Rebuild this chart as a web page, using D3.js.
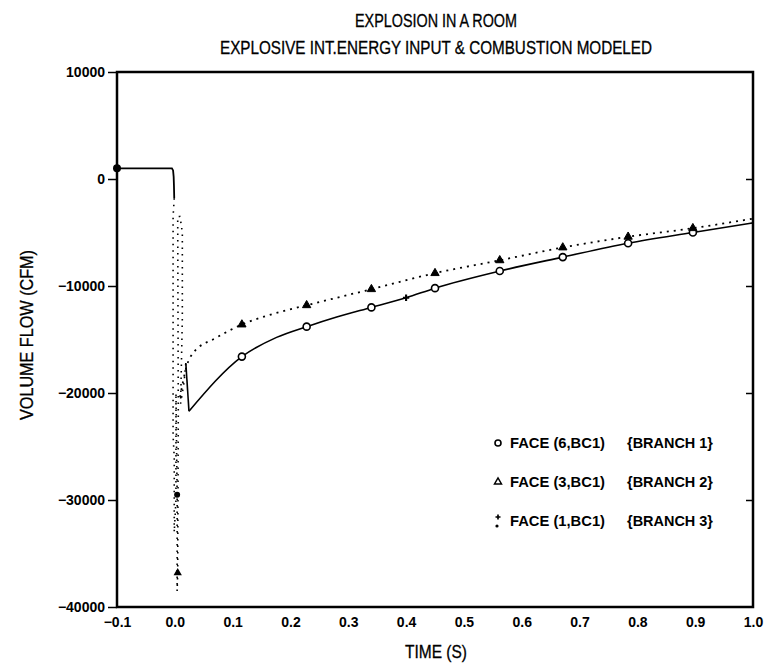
<!DOCTYPE html>
<html>
<head>
<meta charset="utf-8">
<script src="https://cdnjs.cloudflare.com/ajax/libs/d3/7.8.5/d3.min.js"></script>
<style>
  body { margin: 0; background: #fff; }
  svg { display: block; }
</style>
</head>
<body>
<svg id="chart" width="767" height="667"></svg>
<script>
// ---- data ----
const titleLines = ["EXPLOSION IN A ROOM", "EXPLOSIVE INT.ENERGY INPUT & COMBUSTION MODELED"];
const yTicks = [10000, 0, -10000, -20000, -30000, -40000];
const xTicks = [-0.1, 0.0, 0.1, 0.2, 0.3, 0.4, 0.5, 0.6, 0.7, 0.8, 0.9, 1.0];

// flat part before the explosion
const preTime = [-0.1, -0.005, -0.003, -0.002, -0.0015, -0.001];
const preFlow = [1000, 1000, 800, 200, -600, -1800];

// oscillating spike right after t=0 (drawn dotted)
const spikeTime = [-0.001, -0.003, -0.003, -0.001, -0.001, 0.002, 0.002, 0.004, 0.004, 0.005, 0.006, 0.005, 0.009, 0.013, 0.013, 0.010, 0.016, 0.019];
const spikeFlow = [-1800, -3500, -24000, -26000, -33000, -30000, -20000, -29500, -38500, -36800, -22000, -3500, -3500, -5000, -13000, -21000, -19000, -17200];

// branch 1 (solid)
const b1Time = [0.019, 0.0245, 0.116, 0.176, 0.228, 0.28, 0.34, 0.40, 0.45, 0.562, 0.671, 0.784, 0.896, 1.0];
const b1Flow = [-17200, -21700, -16600, -14800, -13800, -12900, -12000, -11100, -10200, -8600, -7300, -6000, -5000, -4100];

// branch 2 (dotted)
const b2Time = [0.009, 0.021, 0.031, 0.073, 0.116, 0.164, 0.228, 0.28, 0.34, 0.45, 0.562, 0.671, 0.784, 0.896, 1.0];
const b2Flow = [-20400, -17400, -16300, -14800, -13600, -12700, -11800, -11100, -10300, -8800, -7600, -6400, -5400, -4600, -3700];

const markTimes = [0.116, 0.228, 0.34, 0.45, 0.562, 0.671, 0.784, 0.896];
const plusTimes = [0.40];

const legendFaces = ["FACE (6,BC1)", "FACE (3,BC1)", "FACE (1,BC1)"];
const legendBranches = ["{BRANCH 1}", "{BRANCH 2}", "{BRANCH 3}"];

const svg = d3.select("#chart");
const font = "'Liberation Sans Narrow', 'Liberation Sans', Arial, sans-serif";
const boldFont = "'Liberation Sans', Arial, sans-serif";

const x = d3.scaleLinear().domain([-0.1, 1.0]).range([117, 753]);
const y = d3.scaleLinear().domain([-40000, 10000]).range([607, 72]);

const zip = (t, v) => t.map((d, i) => ({ t: d, v: v[i] }));

// titles
svg.selectAll("text.title")
  .data(titleLines)
  .join("text")
  .attr("class", "title")
  .attr("x", 436)
  .attr("y", (d, i) => 27 + i * 27)
  .attr("text-anchor", "middle")
  .attr("font-family", font)
  .attr("font-size", 18)
  .attr("stroke", "#000").attr("stroke-width", 0.3)
  .attr("textLength", (d, i) => i == 0 ? 162 : 432)
  .attr("lengthAdjust", "spacingAndGlyphs")
  .text(d => d);

// left axis with outward ticks
const yAxis = svg.append("g")
  .attr("transform", "translate(117,0)")
  .call(d3.axisLeft(y).tickValues(yTicks).tickSize(9).tickPadding(3).tickFormat(d3.format("d")));
yAxis.select(".domain").remove();
yAxis.selectAll("line").attr("stroke-width", 1.5);
yAxis.selectAll("text")
  .attr("font-family", boldFont)
  .attr("font-weight", "bold")
  .attr("font-size", 14);

// right axis, ticks pointing in
const rAxis = svg.append("g")
  .attr("transform", "translate(753,0)")
  .call(d3.axisRight(y).tickValues(yTicks.slice(1, -1)).tickSize(-7).tickFormat(""));
rAxis.select(".domain").remove();
rAxis.selectAll("line").attr("stroke-width", 1.5);

// bottom labels
const xAxis = svg.append("g")
  .attr("transform", "translate(0,607)")
  .call(d3.axisBottom(x).tickValues(xTicks).tickSize(0).tickPadding(10).tickFormat(d3.format(".1f")));
xAxis.select(".domain").remove();
xAxis.selectAll("text")
  .attr("font-family", boldFont)
  .attr("font-weight", "bold")
  .attr("font-size", 14);

// frame
svg.append("rect")
  .attr("x", x(-0.1)).attr("y", y(10000))
  .attr("width", x(1.0) - x(-0.1)).attr("height", y(-40000) - y(10000))
  .attr("fill", "none").attr("stroke", "#000").attr("stroke-width", 2.5);

// axis titles
svg.append("text")
  .attr("x", 436).attr("y", 658)
  .attr("text-anchor", "middle")
  .attr("font-family", font).attr("font-size", 18)
  .attr("stroke", "#000").attr("stroke-width", 0.3)
  .attr("textLength", 62).attr("lengthAdjust", "spacingAndGlyphs")
  .text("TIME (S)");

svg.append("text")
  .attr("transform", "translate(33,335) rotate(-90)")
  .attr("text-anchor", "middle")
  .attr("font-family", font).attr("font-size", 18)
  .attr("stroke", "#000").attr("stroke-width", 0.3)
  .attr("textLength", 170).attr("lengthAdjust", "spacingAndGlyphs")
  .text("VOLUME FLOW (CFM)");

// curves
const line = d3.line().x(d => x(d.t)).y(d => y(d.v));
const smoothLine = d3.line().x(d => x(d.t)).y(d => y(d.v)).curve(d3.curveMonotoneX);

svg.append("path")
  .attr("d", line(zip(preTime, preFlow)))
  .attr("fill", "none").attr("stroke", "#000").attr("stroke-width", 1.8);

svg.append("path")
  .attr("d", line(zip(spikeTime, spikeFlow)))
  .attr("fill", "none").attr("stroke", "#000").attr("stroke-width", 1.6)
  .attr("stroke-dasharray", "1.5,5");

// solid branch: sharp corner at the minimum, smooth afterwards
svg.append("path")
  .attr("d", line(zip(b1Time.slice(0, 2), b1Flow.slice(0, 2))))
  .attr("fill", "none").attr("stroke", "#000").attr("stroke-width", 1.6);
svg.append("path")
  .attr("d", smoothLine(zip(b1Time.slice(1), b1Flow.slice(1))))
  .attr("fill", "none").attr("stroke", "#000").attr("stroke-width", 1.6);

svg.append("path")
  .attr("d", smoothLine(zip(b2Time, b2Flow)))
  .attr("fill", "none").attr("stroke", "#000").attr("stroke-width", 1.8)
  .attr("stroke-dasharray", "2,5");

// markers
const b1Marks = zip(b1Time, b1Flow).filter(d => markTimes.includes(d.t));
svg.selectAll("circle.b1")
  .data(b1Marks)
  .join("circle")
  .attr("class", "b1")
  .attr("cx", d => x(d.t)).attr("cy", d => y(d.v)).attr("r", 3.5)
  .attr("fill", "#fff").attr("stroke", "#000").attr("stroke-width", 1.6);

const tri = d3.symbol().type(d3.symbolTriangle).size(30);
const b2Marks = zip(b2Time, b2Flow).filter(d => markTimes.includes(d.t));
svg.selectAll("path.b2")
  .data(b2Marks)
  .join("path")
  .attr("class", "b2")
  .attr("transform", d => `translate(${x(d.t)},${y(d.v)})`)
  .attr("d", tri)
  .attr("fill", "#000").attr("stroke", "#000").attr("stroke-width", 1);

const plus = d3.symbol().type(d3.symbolCross).size(22);
svg.selectAll("path.b3")
  .data(zip(b1Time, b1Flow).filter(d => plusTimes.includes(d.t)))
  .join("path")
  .attr("class", "b3")
  .attr("transform", d => `translate(${x(d.t)},${y(d.v)})`)
  .attr("d", plus)
  .attr("fill", "#000");

// start point and points on the spike
svg.append("circle")
  .attr("cx", x(preTime[0])).attr("cy", y(preFlow[0])).attr("r", 4).attr("fill", "#000");
svg.append("circle")
  .attr("cx", x(spikeTime[7])).attr("cy", y(spikeFlow[7])).attr("r", 3).attr("fill", "#000");
svg.append("path")
  .attr("transform", `translate(${x(spikeTime[9])},${y(spikeFlow[9])})`)
  .attr("d", tri).attr("fill", "#000");

// legend
const legend = svg.append("g");
const rows = legend.selectAll("g")
  .data(legendFaces)
  .join("g")
  .attr("transform", (d, i) => `translate(498,${443 + i * 39})`);

rows.append("text")
  .attr("x", 12).attr("y", 5)
  .attr("font-family", boldFont)
  .attr("font-weight", "bold").attr("font-size", 14)
  .attr("textLength", 95).attr("lengthAdjust", "spacingAndGlyphs")
  .text(d => d);
rows.append("text")
  .attr("x", 129).attr("y", 5)
  .attr("font-family", boldFont)
  .attr("font-weight", "bold").attr("font-size", 14)
  .attr("textLength", 86).attr("lengthAdjust", "spacingAndGlyphs")
  .text((d, i) => legendBranches[i]);

rows.filter((d, i) => i == 0).append("circle")
  .attr("r", 3).attr("fill", "#fff").attr("stroke", "#000").attr("stroke-width", 1.6);
rows.filter((d, i) => i == 1).append("path")
  .attr("d", d3.symbol().type(d3.symbolTriangle).size(22))
  .attr("fill", "none").attr("stroke", "#000").attr("stroke-width", 1.4);
const r3 = rows.filter((d, i) => i == 2);
r3.append("path").attr("transform", "translate(0,-4)")
  .attr("d", d3.symbol().type(d3.symbolCross).size(14)).attr("fill", "#000");
r3.append("circle").attr("cx", -1).attr("cy", 5).attr("r", 1.6).attr("fill", "#000");
</script>
</body>
</html>
